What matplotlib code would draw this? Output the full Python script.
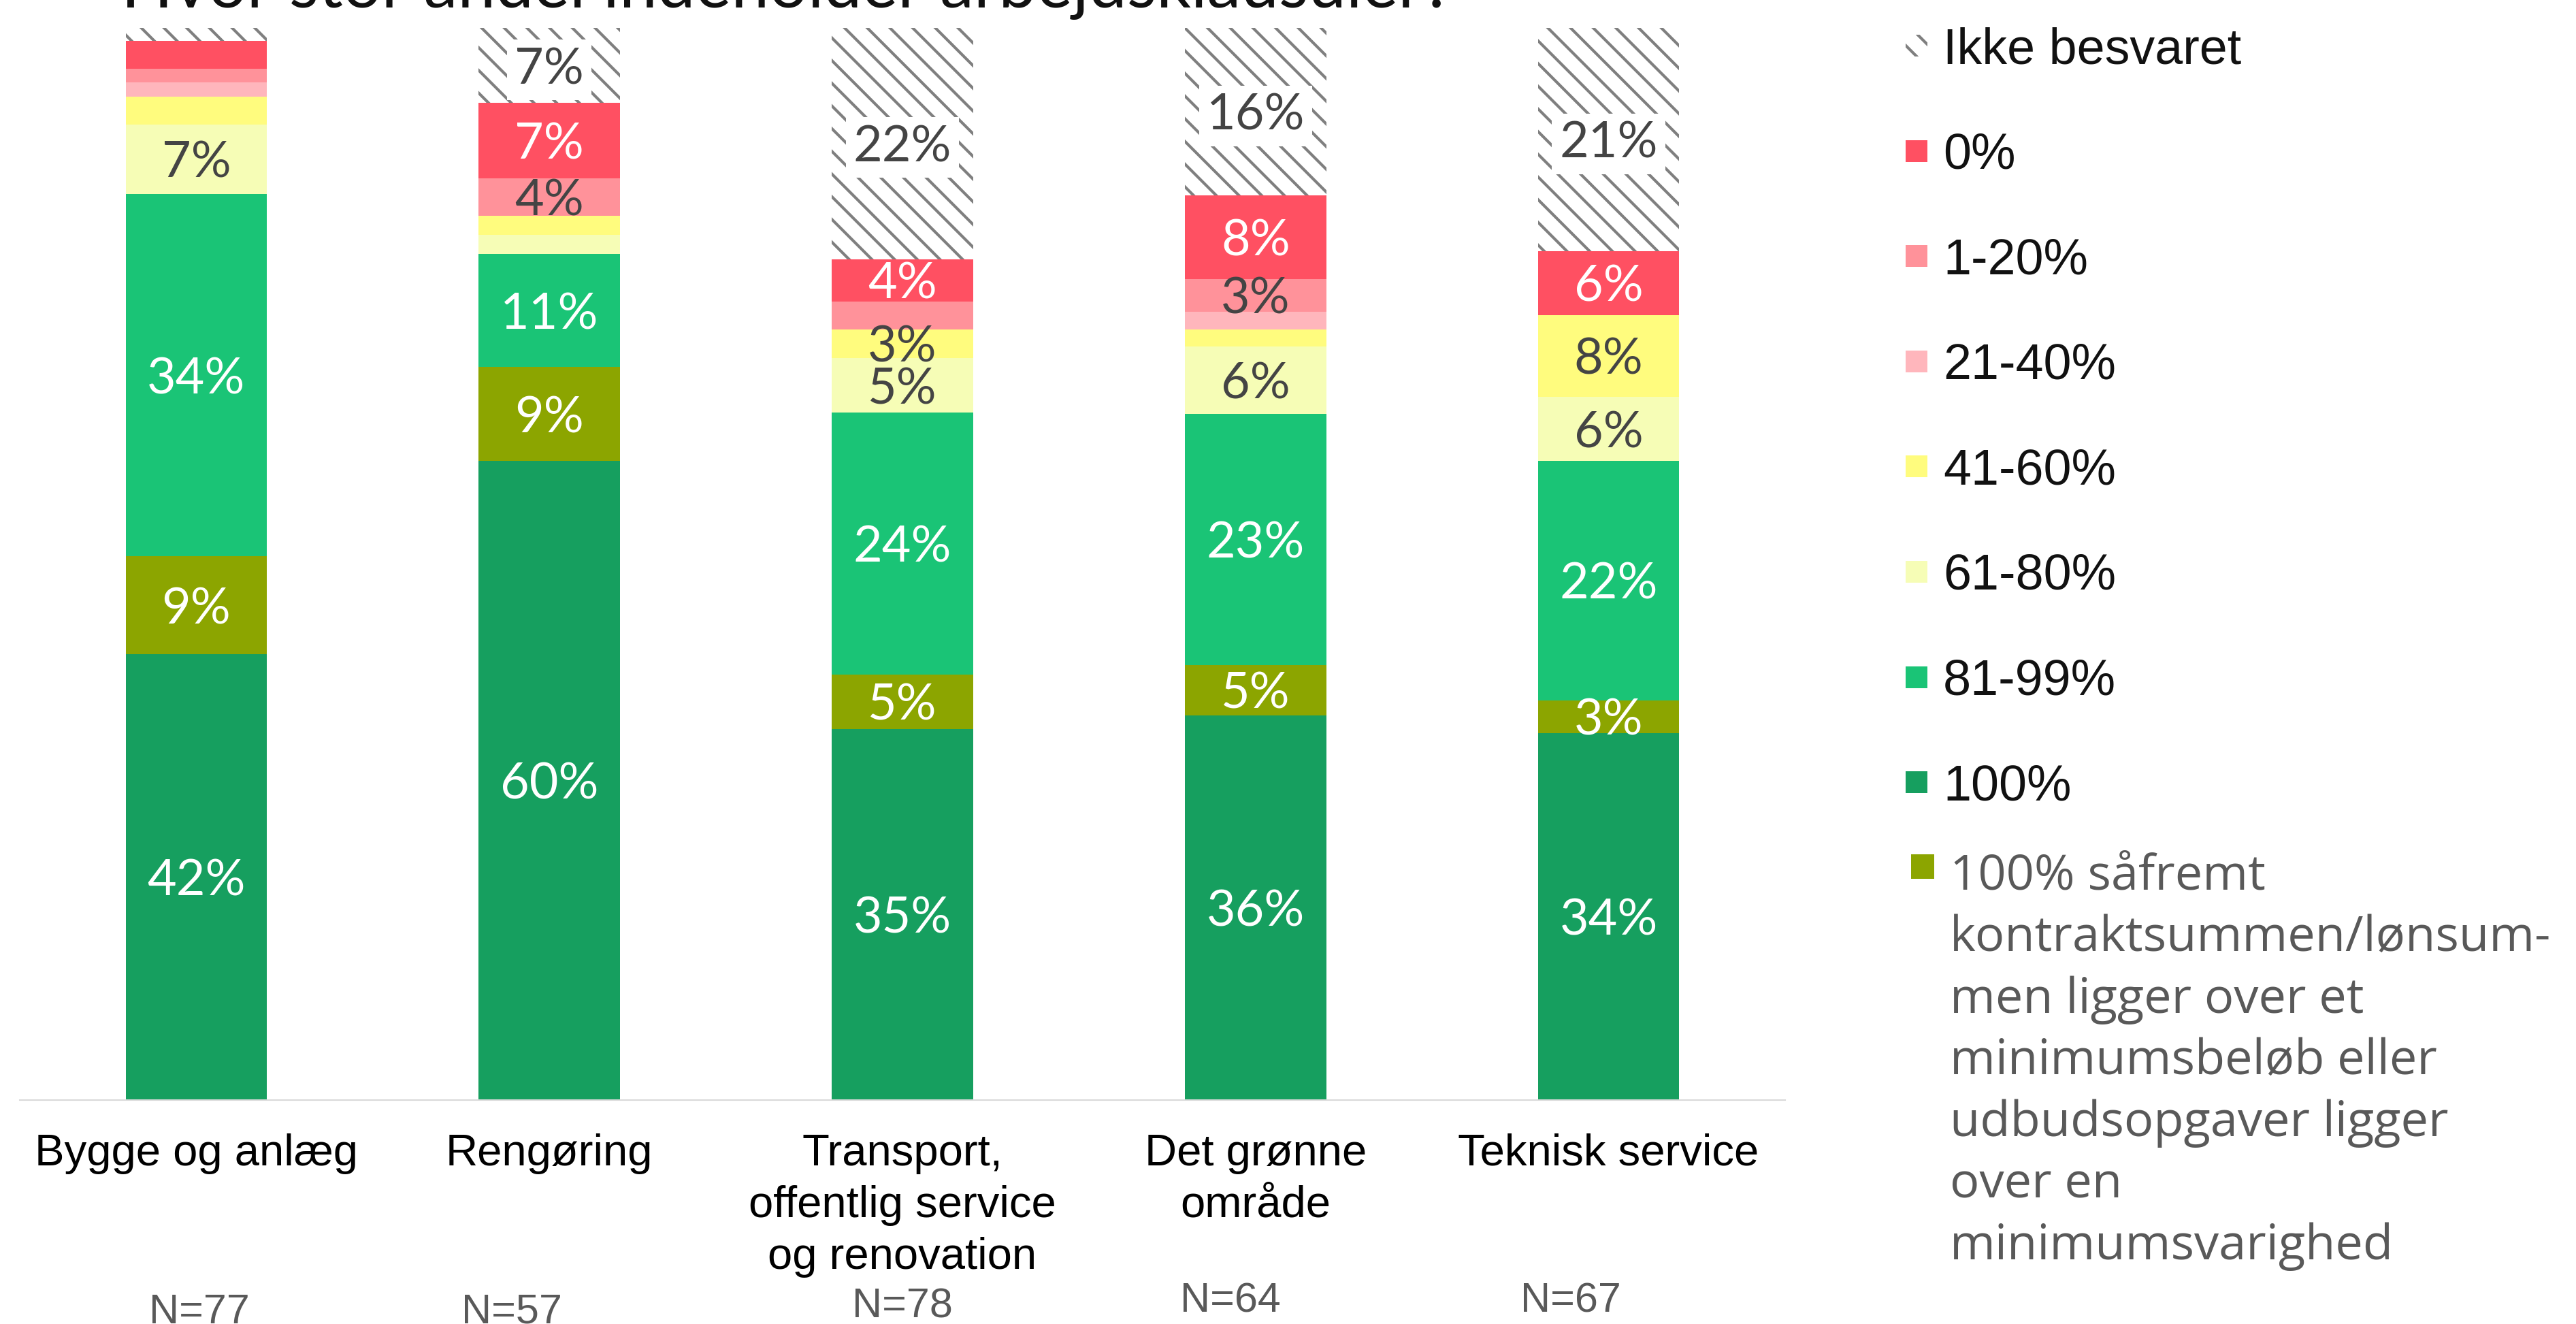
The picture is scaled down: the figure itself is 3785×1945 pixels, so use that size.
import matplotlib
matplotlib.use("Agg")
import matplotlib.pyplot as plt
from matplotlib.patches import Rectangle
import numpy as np

W, H = 3785, 1945

# data
categories = ["Bygge og anlæg", "Rengøring", "Transport,\noffentlig service\nog renovation",
              "Det grønne\nområde", "Teknisk service"]
n_labels = ["N=77", "N=57", "N=78", "N=64", "N=67"]
title = "Hvor stor andel indeholder arbejdsklausuler?"

# andel i procent, stablet nedefra
full_100 = [41.6, 59.6, 34.6, 35.9, 34.2]
full_cond = [9.1, 8.8, 5.1, 4.7, 3.1]
p81_99 = [33.8, 10.5, 24.4, 23.4, 22.3]
p61_80 = [6.5, 1.8, 5.1, 6.3, 6.0]
p41_60 = [2.6, 1.8, 2.7, 1.6, 7.6]
p21_40 = [1.3, 0.0, 0.0, 1.6, 0.0]
p1_20 = [1.3, 3.5, 2.6, 3.1, 0.0]
p0 = [2.6, 7.0, 3.9, 7.8, 6.0]
no_answer = [1.3, 7.0, 21.7, 15.6, 20.8]

series_names = ["100%",
                "100% såfremt\nkontraktsummen/lønsum-\nmen ligger over et\nminimumsbeløb eller\n"
                "udbudsopgaver ligger\nover en\nminimumsvarighed",
                "81-99%", "61-80%", "41-60%", "21-40%", "1-20%", "0%", "Ikke besvaret"]
series_vals = [full_100, full_cond, p81_99, p61_80, p41_60, p21_40, p1_20, p0, no_answer]
colors = ["#169F5F", "#8CA500", "#1AC476", "#F6FDB6", "#FFFC7E", "#FFB6BC", "#FF929A", "#FF5062", "white"]
label_colors = ["white", "white", "white", "#444444", "#444444", "#444444", "#444444", "white", "#444444"]

LATO = "Lato"
ARIAL = "Liberation Sans"
plt.rcParams["hatch.linewidth"] = 3.0


def fx(px):
    return px / W


def fy(py):
    return 1 - py / H


fig = plt.figure(figsize=(W / 100, H / 100), dpi=100)
ax = fig.add_axes([fx(29), fy(1616), fx(2623) - fx(29), fy(41) - fy(1616)])

x = np.arange(len(categories))
bottom = np.zeros(len(categories))
for name, vals, col, lcol in zip(series_names, series_vals, colors, label_colors):
    vals = np.array(vals)
    hatched = name == "Ikke besvaret"
    ax.bar(x, vals, bottom=bottom, width=0.4, color=col, linewidth=0,
           hatch="\\" if hatched else None, edgecolor="#7F7F7F" if hatched else col)
    for j, v in enumerate(vals):
        if v >= 2.65:
            kw = {}
            if hatched:
                kw["bbox"] = dict(facecolor="white", edgecolor="none", pad=8)
            ax.text(x[j], bottom[j] + v / 2, f"{int(v + 0.5)}%", ha="center", va="center_baseline",
                    fontsize=53, family=LATO, color=lcol, **kw)
    bottom += vals

ax.set_xlim(-0.5, len(categories) - 0.5)
ax.set_ylim(0, 100)
ax.set_yticks([])
ax.set_xticks(x)
ax.set_xticklabels(categories, fontsize=47, family=ARIAL, color="black", linespacing=1.34)
ax.tick_params(axis="x", length=0, pad=35)
for s in ["top", "right", "left"]:
    ax.spines[s].set_visible(False)
ax.spines["bottom"].set_color("#D9D9D9")
ax.spines["bottom"].set_linewidth(1.5)

# N-tekster under kategorierne
n_pos = [(293, 1944), (752, 1944), (1326, 1936), (1808, 1927), (2308, 1927)]
for lab, (px, py) in zip(n_labels, n_pos):
    fig.text(fx(px), fy(py), lab, ha="center", va="baseline", fontsize=44, family=ARIAL, color="#595959")

# titel (kun nederste del synlig)
fig.text(fx(178), fy(11), title, ha="left", va="baseline", fontsize=72, family=LATO, color="#111111")

# legende
legend_order = [8, 7, 6, 5, 4, 3, 2, 0]
for i, k in enumerate(legend_order):
    cy = 67 + 154.6 * i
    hatched = series_names[k] == "Ikke besvaret"
    fig.patches.append(Rectangle((fx(2800), fy(cy + 16)), fx(32), 32 / H, transform=fig.transFigure,
                                 facecolor=colors[k], linewidth=0,
                                 hatch="\\" if hatched else None,
                                 edgecolor="#7F7F7F" if hatched else colors[k]))
    fig.text(fx(2855), fy(cy + 26), series_names[k], ha="left", va="baseline",
             fontsize=53, family=ARIAL, color="#111111")

fig.patches.append(Rectangle((fx(2808), fy(1291)), fx(34), 36 / H, transform=fig.transFigure,
                             facecolor=colors[1], linewidth=0))
fig.text(fx(2865), fy(1252), series_names[1], ha="left", va="top", fontsize=52,
         family="Open Sans", color="#595959", linespacing=1.35)

fig.savefig("out.png", dpi=100)
